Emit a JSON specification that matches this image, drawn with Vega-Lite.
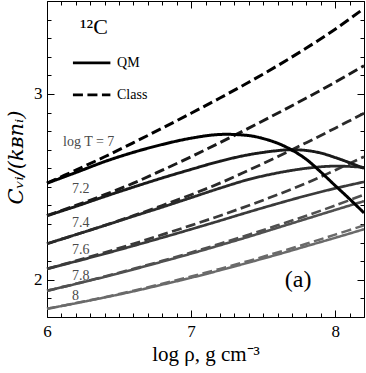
{
"$schema":"https://vega.github.io/schema/vega-lite/v6.json",
"width":317,"height":316,
"autosize":{"type":"none"},
"padding":{"left":47,"top":1,"right":2,"bottom":56},
"background":"white",
"config":{"view":{"stroke":"black","strokeWidth":1},"font":"Liberation Serif",
"axis":{"domain":false,"grid":false,"tickColor":"black","tickWidth":1,"labelFont":"Liberation Serif","labelFontSize":17,"labelColor":"black","titleFont":"Liberation Serif","titleFontWeight":"normal","titleColor":"black","labelOverlap":false,"labelFlush":false}},
"datasets":{
"curves":[
{"T":"8","model":"Class","x":6.0,"y":1.844},{"T":"8","model":"Class","x":6.2,"y":1.875},{"T":"8","model":"Class","x":6.4,"y":1.907},{"T":"8","model":"Class","x":6.6,"y":1.941},{"T":"8","model":"Class","x":6.8,"y":1.979},{"T":"8","model":"Class","x":7.0,"y":2.018},{"T":"8","model":"Class","x":7.2,"y":2.059},{"T":"8","model":"Class","x":7.4,"y":2.102},{"T":"8","model":"Class","x":7.6,"y":2.147},{"T":"8","model":"Class","x":7.8,"y":2.194},{"T":"8","model":"Class","x":8.0,"y":2.243},{"T":"8","model":"Class","x":8.2,"y":2.293},
{"T":"8","model":"QM","x":6.0,"y":1.844},{"T":"8","model":"QM","x":6.2,"y":1.874},{"T":"8","model":"QM","x":6.4,"y":1.905},{"T":"8","model":"QM","x":6.6,"y":1.938},{"T":"8","model":"QM","x":6.8,"y":1.974},{"T":"8","model":"QM","x":7.0,"y":2.011},{"T":"8","model":"QM","x":7.2,"y":2.051},{"T":"8","model":"QM","x":7.4,"y":2.093},{"T":"8","model":"QM","x":7.6,"y":2.136},{"T":"8","model":"QM","x":7.8,"y":2.181},{"T":"8","model":"QM","x":8.0,"y":2.226},{"T":"8","model":"QM","x":8.2,"y":2.272},
{"T":"7.8","model":"Class","x":6.0,"y":1.941},{"T":"7.8","model":"Class","x":6.2,"y":1.979},{"T":"7.8","model":"Class","x":6.4,"y":2.018},{"T":"7.8","model":"Class","x":6.6,"y":2.059},{"T":"7.8","model":"Class","x":6.8,"y":2.102},{"T":"7.8","model":"Class","x":7.0,"y":2.147},{"T":"7.8","model":"Class","x":7.2,"y":2.194},{"T":"7.8","model":"Class","x":7.4,"y":2.243},{"T":"7.8","model":"Class","x":7.6,"y":2.293},{"T":"7.8","model":"Class","x":7.8,"y":2.345},{"T":"7.8","model":"Class","x":8.0,"y":2.400},{"T":"7.8","model":"Class","x":8.2,"y":2.458},
{"T":"7.8","model":"QM","x":6.0,"y":1.941},{"T":"7.8","model":"QM","x":6.2,"y":1.978},{"T":"7.8","model":"QM","x":6.4,"y":2.016},{"T":"7.8","model":"QM","x":6.6,"y":2.056},{"T":"7.8","model":"QM","x":6.8,"y":2.098},{"T":"7.8","model":"QM","x":7.0,"y":2.141},{"T":"7.8","model":"QM","x":7.2,"y":2.186},{"T":"7.8","model":"QM","x":7.4,"y":2.232},{"T":"7.8","model":"QM","x":7.6,"y":2.280},{"T":"7.8","model":"QM","x":7.8,"y":2.328},{"T":"7.8","model":"QM","x":8.0,"y":2.376},{"T":"7.8","model":"QM","x":8.2,"y":2.423},
{"T":"7.6","model":"Class","x":6.0,"y":2.059},{"T":"7.6","model":"Class","x":6.2,"y":2.102},{"T":"7.6","model":"Class","x":6.4,"y":2.147},{"T":"7.6","model":"Class","x":6.6,"y":2.194},{"T":"7.6","model":"Class","x":6.8,"y":2.243},{"T":"7.6","model":"Class","x":7.0,"y":2.293},{"T":"7.6","model":"Class","x":7.2,"y":2.345},{"T":"7.6","model":"Class","x":7.4,"y":2.400},{"T":"7.6","model":"Class","x":7.6,"y":2.458},{"T":"7.6","model":"Class","x":7.8,"y":2.520},{"T":"7.6","model":"Class","x":8.0,"y":2.590},{"T":"7.6","model":"Class","x":8.2,"y":2.662},
{"T":"7.6","model":"QM","x":6.0,"y":2.059},{"T":"7.6","model":"QM","x":6.2,"y":2.099},{"T":"7.6","model":"QM","x":6.4,"y":2.140},{"T":"7.6","model":"QM","x":6.6,"y":2.183},{"T":"7.6","model":"QM","x":6.8,"y":2.227},{"T":"7.6","model":"QM","x":7.0,"y":2.272},{"T":"7.6","model":"QM","x":7.2,"y":2.318},{"T":"7.6","model":"QM","x":7.4,"y":2.365},{"T":"7.6","model":"QM","x":7.6,"y":2.410},{"T":"7.6","model":"QM","x":7.8,"y":2.453},{"T":"7.6","model":"QM","x":8.0,"y":2.492},{"T":"7.6","model":"QM","x":8.2,"y":2.527},
{"T":"7.4","model":"Class","x":6.0,"y":2.194},{"T":"7.4","model":"Class","x":6.2,"y":2.243},{"T":"7.4","model":"Class","x":6.4,"y":2.293},{"T":"7.4","model":"Class","x":6.6,"y":2.345},{"T":"7.4","model":"Class","x":6.8,"y":2.400},{"T":"7.4","model":"Class","x":7.0,"y":2.458},{"T":"7.4","model":"Class","x":7.2,"y":2.520},{"T":"7.4","model":"Class","x":7.4,"y":2.590},{"T":"7.4","model":"Class","x":7.6,"y":2.662},{"T":"7.4","model":"Class","x":7.8,"y":2.738},{"T":"7.4","model":"Class","x":8.0,"y":2.816},{"T":"7.4","model":"Class","x":8.2,"y":2.896},
{"T":"7.4","model":"QM","x":6.0,"y":2.194},{"T":"7.4","model":"QM","x":6.2,"y":2.243},{"T":"7.4","model":"QM","x":6.4,"y":2.292},{"T":"7.4","model":"QM","x":6.6,"y":2.342},{"T":"7.4","model":"QM","x":6.8,"y":2.391},{"T":"7.4","model":"QM","x":7.0,"y":2.442},{"T":"7.4","model":"QM","x":7.2,"y":2.493},{"T":"7.4","model":"QM","x":7.4,"y":2.540},{"T":"7.4","model":"QM","x":7.6,"y":2.575},{"T":"7.4","model":"QM","x":7.8,"y":2.600},{"T":"7.4","model":"QM","x":8.0,"y":2.612},{"T":"7.4","model":"QM","x":8.2,"y":2.605},
{"T":"7.2","model":"Class","x":6.0,"y":2.345},{"T":"7.2","model":"Class","x":6.2,"y":2.400},{"T":"7.2","model":"Class","x":6.4,"y":2.458},{"T":"7.2","model":"Class","x":6.6,"y":2.520},{"T":"7.2","model":"Class","x":6.8,"y":2.590},{"T":"7.2","model":"Class","x":7.0,"y":2.662},{"T":"7.2","model":"Class","x":7.2,"y":2.738},{"T":"7.2","model":"Class","x":7.4,"y":2.816},{"T":"7.2","model":"Class","x":7.6,"y":2.896},{"T":"7.2","model":"Class","x":7.8,"y":2.978},{"T":"7.2","model":"Class","x":8.0,"y":3.063},{"T":"7.2","model":"Class","x":8.2,"y":3.152},
{"T":"7.2","model":"QM","x":6.0,"y":2.345},{"T":"7.2","model":"QM","x":6.2,"y":2.395},{"T":"7.2","model":"QM","x":6.4,"y":2.448},{"T":"7.2","model":"QM","x":6.6,"y":2.499},{"T":"7.2","model":"QM","x":6.8,"y":2.548},{"T":"7.2","model":"QM","x":7.0,"y":2.594},{"T":"7.2","model":"QM","x":7.2,"y":2.638},{"T":"7.2","model":"QM","x":7.4,"y":2.673},{"T":"7.2","model":"QM","x":7.6,"y":2.695},{"T":"7.2","model":"QM","x":7.7,"y":2.700},{"T":"7.2","model":"QM","x":7.8,"y":2.696},{"T":"7.2","model":"QM","x":7.9,"y":2.682},{"T":"7.2","model":"QM","x":8.0,"y":2.658},{"T":"7.2","model":"QM","x":8.1,"y":2.630},{"T":"7.2","model":"QM","x":8.2,"y":2.600},
{"T":"7","model":"Class","x":6.0,"y":2.520},{"T":"7","model":"Class","x":6.2,"y":2.590},{"T":"7","model":"Class","x":6.4,"y":2.662},{"T":"7","model":"Class","x":6.6,"y":2.738},{"T":"7","model":"Class","x":6.8,"y":2.816},{"T":"7","model":"Class","x":7.0,"y":2.896},{"T":"7","model":"Class","x":7.2,"y":2.978},{"T":"7","model":"Class","x":7.4,"y":3.063},{"T":"7","model":"Class","x":7.6,"y":3.152},{"T":"7","model":"Class","x":7.8,"y":3.247},{"T":"7","model":"Class","x":8.0,"y":3.348},{"T":"7","model":"Class","x":8.2,"y":3.460},
{"T":"7","model":"QM","x":6.0,"y":2.520},{"T":"7","model":"QM","x":6.2,"y":2.577},{"T":"7","model":"QM","x":6.4,"y":2.636},{"T":"7","model":"QM","x":6.6,"y":2.686},{"T":"7","model":"QM","x":6.8,"y":2.728},{"T":"7","model":"QM","x":7.0,"y":2.762},{"T":"7","model":"QM","x":7.2,"y":2.782},{"T":"7","model":"QM","x":7.4,"y":2.776},{"T":"7","model":"QM","x":7.5,"y":2.760},{"T":"7","model":"QM","x":7.6,"y":2.735},{"T":"7","model":"QM","x":7.7,"y":2.698},{"T":"7","model":"QM","x":7.8,"y":2.648},{"T":"7","model":"QM","x":7.9,"y":2.580},{"T":"7","model":"QM","x":8.0,"y":2.507},{"T":"7","model":"QM","x":8.1,"y":2.435},{"T":"7","model":"QM","x":8.2,"y":2.360}
],
"legendLines":[{"model":"QM","x":6.18,"y":3.167},{"model":"QM","x":6.44,"y":3.167},{"model":"Class","x":6.18,"y":2.995},{"model":"Class","x":6.44,"y":2.995}],
"legendText":[{"label":"QM","x":6.486,"y":3.167},{"label":"Class","x":6.486,"y":2.995}],
"tLabels":[{"label":"log T = 7","x":6.111,"y":2.742},{"label":"7.2","x":6.174,"y":2.489},{"label":"7.4","x":6.174,"y":2.304},{"label":"7.6","x":6.174,"y":2.159},{"label":"7.8","x":6.174,"y":2.022},{"label":"8","x":6.174,"y":1.914}],
"element":[{"label":"¹²C","x":6.229,"y":3.36}],
"panel":[{"label":"(a)","x":7.743,"y":2.0}]
},
"resolve":{"axis":{"x":"independent","y":"independent"}},
"layer":[
{"data":{"name":"curves"},
"mark":{"type":"line","interpolate":"catmull-rom","strokeCap":"butt"},
"encoding":{
"x":{"field":"x","type":"quantitative","scale":{"domain":[6,8.2],"nice":false,"zero":false},
"axis":{"orient":"bottom","values":[6,6.1,6.2,6.3,6.4,6.5,6.6,6.7,6.8,6.9,7,7.1,7.2,7.3,7.4,7.5,7.6,7.7,7.8,7.9,8,8.1,8.2],
"labelExpr":"abs(datum.value - round(datum.value)) < 0.001 ? format(datum.value, 'd') : ''",
"tickSize":{"condition":{"test":"abs(datum.value - round(datum.value)) < 0.001","value":-7},"value":-4},
"labelPadding":13,"title":"log ρ, g cm⁻³","titleFontSize":21,"titleY":43,"titleBaseline":"alphabetic"}},
"y":{"field":"y","type":"quantitative","scale":{"domain":[1.8,3.5],"nice":false,"zero":false},
"axis":{"orient":"left","values":[1.8,1.9,2,2.1,2.2,2.3,2.4,2.5,2.6,2.7,2.8,2.9,3,3.1,3.2,3.3,3.4,3.5],
"labelExpr":"abs(datum.value - round(datum.value)) < 0.001 ? format(datum.value, 'd') : ''",
"tickSize":{"condition":{"test":"abs(datum.value - round(datum.value)) < 0.001","value":-7},"value":-4},
"labelPadding":12,"title":"Cᵥᵢ/(kʙnᵢ)","titleFont":"DejaVu Serif","titleFontSize":21,"titleFontStyle":"italic","titleX":-25,"titleY":156,"titleBaseline":"alphabetic","titleAngle":-90}},
"color":{"field":"T","type":"nominal","scale":{"domain":["7","7.2","7.4","7.6","7.8","8"],"range":["#000000","#1a1a1a","#2a2a2a","#3a3a3a","#505050","#6a6a6a"]},"legend":null},
"strokeWidth":{"field":"T","type":"ordinal","scale":{"domain":["7","7.2","7.4","7.6","7.8","8"],"range":[3,2.5,2.2,1.8,1.4,1.1]},"legend":null},
"strokeDash":{"field":"model","type":"nominal","scale":{"domain":["QM","Class"],"range":[[1,0],[10,4.5]]},"legend":null}
}},
{"data":{"name":"legendLines"},
"mark":{"type":"line","color":"black","strokeWidth":2.6,"strokeCap":"butt"},
"encoding":{
"x":{"field":"x","type":"quantitative","axis":null},
"y":{"field":"y","type":"quantitative","axis":null},
"strokeDash":{"field":"model","type":"nominal","legend":null}
}},
{"data":{"name":"legendText"},
"mark":{"type":"text","align":"left","baseline":"middle","fontSize":14,"color":"black","font":"Liberation Serif"},
"encoding":{"x":{"field":"x","type":"quantitative","axis":null},"y":{"field":"y","type":"quantitative","axis":null},"text":{"field":"label"}}},
{"data":{"name":"tLabels"},
"mark":{"type":"text","align":"left","baseline":"middle","fontSize":14,"color":"#4a4a4a","font":"Liberation Serif"},
"encoding":{
"x":{"field":"x","type":"quantitative",
"axis":{"orient":"top","values":[6,6.1,6.2,6.3,6.4,6.5,6.6,6.7,6.8,6.9,7,7.1,7.2,7.3,7.4,7.5,7.6,7.7,7.8,7.9,8,8.1,8.2],"labels":false,"title":null,
"tickSize":{"condition":{"test":"abs(datum.value - round(datum.value)) < 0.001","value":-7},"value":-4}}},
"y":{"field":"y","type":"quantitative",
"axis":{"orient":"right","values":[1.8,1.9,2,2.1,2.2,2.3,2.4,2.5,2.6,2.7,2.8,2.9,3,3.1,3.2,3.3,3.4,3.5],"labels":false,"title":null,
"tickSize":{"condition":{"test":"abs(datum.value - round(datum.value)) < 0.001","value":-7},"value":-4}}},
"text":{"field":"label"}}},
{"data":{"name":"element"},
"mark":{"type":"text","align":"left","baseline":"middle","fontSize":22,"color":"black","font":"Liberation Serif"},
"encoding":{"x":{"field":"x","type":"quantitative","axis":null},"y":{"field":"y","type":"quantitative","axis":null},"text":{"field":"label"}}},
{"data":{"name":"panel"},
"mark":{"type":"text","align":"center","baseline":"middle","fontSize":24,"color":"black","font":"Liberation Serif"},
"encoding":{"x":{"field":"x","type":"quantitative","axis":null},"y":{"field":"y","type":"quantitative","axis":null},"text":{"field":"label"}}}
]
}
